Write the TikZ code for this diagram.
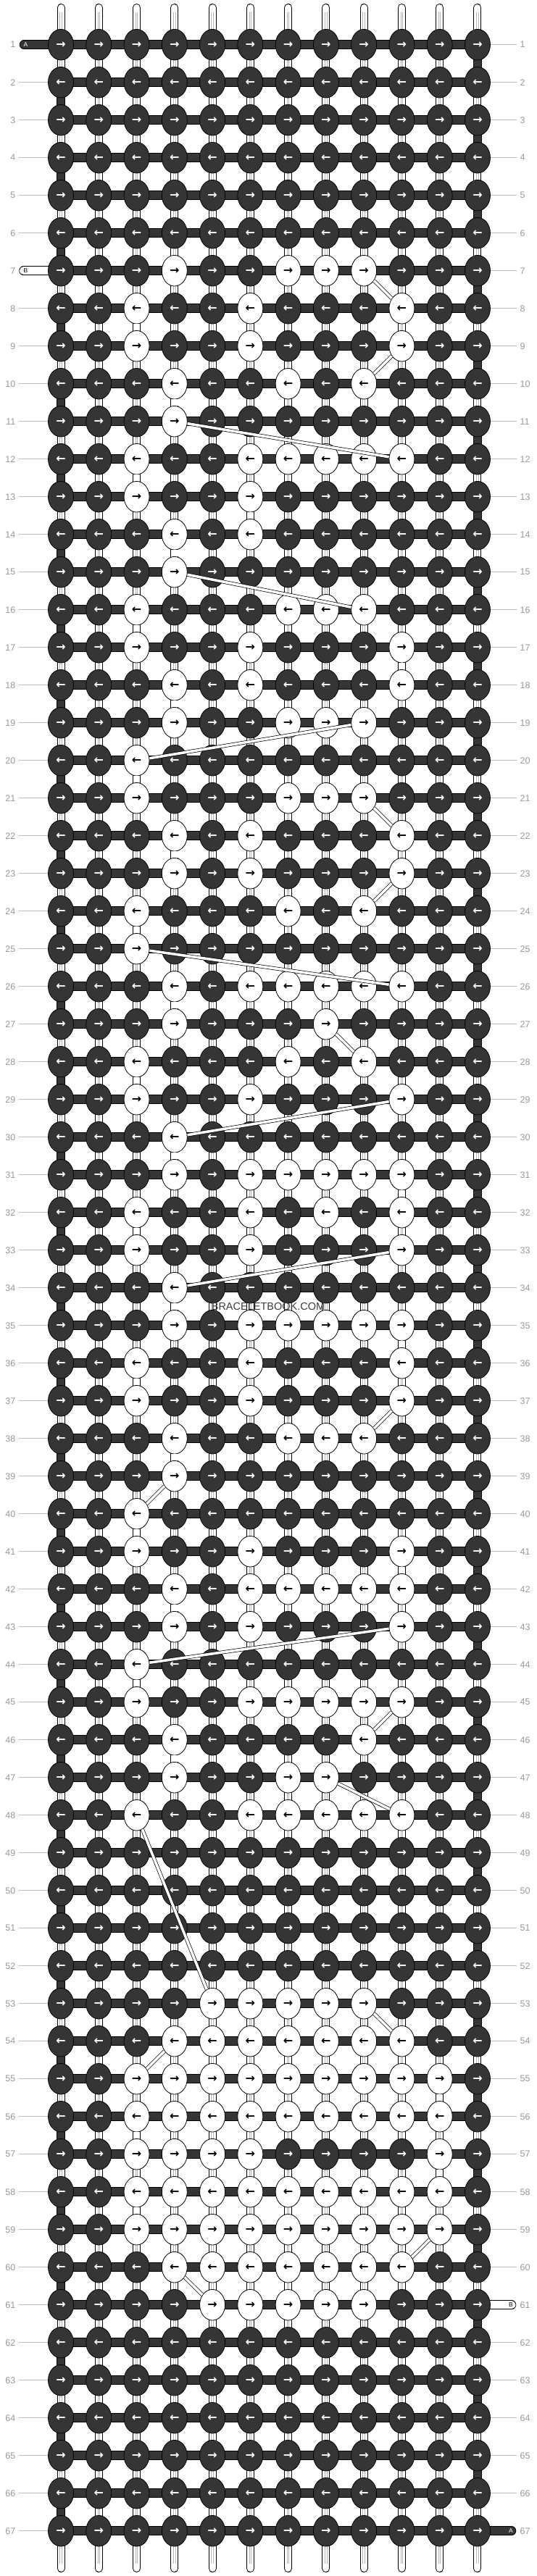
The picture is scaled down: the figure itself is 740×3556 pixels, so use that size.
\documentclass[tikz,border=0pt]{standalone}
\usepackage{fontspec}
\setmainfont{Liberation Sans}
\newfontfamily\arrowfont{DejaVu Sans}
\usetikzlibrary{shapes.geometric}
\definecolor{dk}{HTML}{353535}
\definecolor{lbl}{HTML}{9A9A9A}
\definecolor{lblline}{HTML}{BBBBBB}
\definecolor{strgray}{HTML}{B4B4B4}
\definecolor{wmcol}{HTML}{3C3C3C}
\pgfdeclarelayer{paper}
\pgfdeclarelayer{strings}
\pgfdeclarelayer{bars}
\pgfdeclarelayer{top}
\pgfsetlayers{paper,strings,bars,main,top}
\newif\ifwhiteknot
\begin{document}
\begin{tikzpicture}[x=1pt,y=-1pt,
  knotbase/.style={ellipse, minimum width=35pt, minimum height=42.6pt, inner sep=0pt, draw=black, line width=0.8pt, font=\arrowfont\bfseries\fontsize{16}{16}\selectfont},
  darkknot/.style={knotbase, fill=dk, text=white},
  lightknot/.style={knotbase, fill=white, text=black},
  strouter/.style={line width=11pt, line cap=round, draw=black},
  strinner/.style={line width=9pt, line cap=round, draw=white},
  strgrayline/.style={line width=3.4pt, draw=strgray},
  strcore/.style={line width=1.4pt, draw=white},
  barout/.style={line width=12.5pt, draw=black},
  barin/.style={line width=11pt, draw=dk},
  edgeout/.style={line width=12pt, draw=black},
  edgein/.style={line width=10.5pt, draw=dk},
  bandwhite/.style={line width=11pt, draw=white, line cap=round},
  bline/.style={line width=0.7pt, draw=black, double=white, double distance=3.6pt},
  bvert/.style={line width=0.8pt, draw=black, double=white, double distance=9.4pt},
  rowlabel/.style={inner sep=0pt, text=lbl, font=\fontsize{12.5}{12.5}\selectfont},
  lblconn/.style={draw=lblline, line width=0.9pt},
  threadlabel/.style={inner sep=0pt, font=\fontsize{8.5}{8.5}\selectfont},
  watermark/.style={inner sep=0pt, text=wmcol, font=\fontsize{14.5}{14.5}\selectfont}
]
\begin{pgfonlayer}{paper}
\path[fill=white] (0,0) rectangle (740,3556);
\end{pgfonlayer}
\useasboundingbox (0,0) rectangle (740,3556);

% knots
\foreach \r/\wl in {1/{0},2/{0},3/{0},4/{0},5/{0},6/{0},
  7/{4,7,8,9},8/{3,6,10},9/{3,6,10},10/{4,7,9},11/{4},
  12/{3,6,7,8,9,10},13/{3,6},14/{4,6},15/{4},16/{3,7,8,9},
  17/{3,6,10},18/{4,6,10},19/{4,7,8,9},20/{3},21/{3,7,8,9},
  22/{4,6,10},23/{4,6,10},24/{3,7,9},25/{3},26/{4,6,7,8,9,10},
  27/{4,8},28/{3,7,9},29/{3,6,10},30/{4},31/{4,6,7,8,9,10},
  32/{3,6,8,10},33/{3,6,10},34/{4},35/{4,6,7,8,9,10},36/{3,6,10},
  37/{3,6,10},38/{4,7,8,9},39/{4},40/{3},41/{3,6,10},
  42/{4,6,7,8,9,10},43/{4,6,10},44/{3},45/{3,6,7,8,9,10},46/{4,9},
  47/{4,7,8},48/{3,6,7,8,9,10},49/{0},50/{0},51/{0},52/{0},
  53/{5,6,7,8,9},54/{4,5,6,7,8,9,10},55/{3,4,5,6,7,8,9,10,11},
  56/{3,4,5,6,7,8,9,10,11},57/{3,4,5,6,11},58/{3,4,5,6,7,8,9,10,11},
  59/{3,4,5,6,7,8,9,10,11},60/{4,5,6,7,8,9,10},61/{5,6,7,8,9},
  62/{0},63/{0},64/{0},65/{0},66/{0},67/{0}} {
  \foreach \c in {1,...,12} {
    \global\whiteknotfalse
    \foreach \w in \wl {\ifnum\w=\c\relax\global\whiteknottrue\fi}
    \pgfmathsetmacro\xx{84+(\c-1)*52.27}
    \pgfmathsetmacro\yy{61.7+(\r-1)*52}
    \ifodd\r \def\ar{→}\else\def\ar{←}\fi
    \ifwhiteknot
      \node[lightknot] (k-\r-\c) at (\xx,\yy) {\ar};
    \else
      \node[darkknot] (k-\r-\c) at (\xx,\yy) {\ar};
    \fi
  }
  % row labels
  \pgfmathsetmacro\yy{61.7+(\r-1)*52}
  \node[rowlabel, anchor=east] (ll-\r) at (21.5,\yy) {\r};
  \node[rowlabel, anchor=west] (lr-\r) at (717.5,\yy) {\r};
}

% string coordinates
\foreach \c in {1,...,12} {
  \pgfmathsetmacro\xx{84+(\c-1)*52.27}
  \coordinate (st-\c) at (\xx,10.5);
  \coordinate (sb-\c) at (\xx,3545.5);
  \coordinate (gt-\c) at (\xx,17);
  \coordinate (gb-\c) at (\xx,3539);
}
\coordinate (aL) at (33,61.7);
\coordinate (bL) at (32.5,373.7);
\coordinate (bR) at (706,3181.7);
\coordinate (aR) at (706,3493.7);

\begin{pgfonlayer}{strings}
  \foreach \c in {1,...,12} {
    \draw[strouter] (st-\c) -- (sb-\c);
    \draw[strinner] (st-\c) -- (sb-\c);
    \draw[strgrayline] (gt-\c) -- (gb-\c);
    \draw[strcore] (gt-\c) -- (gb-\c);
  }
  \foreach \r in {1,...,67} {
    \ifnum\r=1\else\ifnum\r=7\else
      \draw[lblconn, shorten <=4.5pt] (ll-\r.east) -- (k-\r-1.west);
    \fi\fi
    \ifnum\r=61\else\ifnum\r=67\else
      \draw[lblconn, shorten >=4.5pt] (k-\r-12.east) -- (lr-\r.west);
    \fi\fi
  }
\end{pgfonlayer}

\begin{pgfonlayer}{bars}
  % turning connectors of thread A at the edges
  \foreach \r in {2,4,...,66} {
    \pgfmathtruncatemacro\rn{\r+1}
    \draw[edgeout] (k-\r-1.center) -- (k-\rn-1.center);
    \draw[edgein] (k-\r-1.center) -- (k-\rn-1.center);
  }
  \foreach \r in {1,3,...,65} {
    \pgfmathtruncatemacro\rn{\r+1}
    \draw[edgeout] (k-\r-12.center) -- (k-\rn-12.center);
    \draw[edgein] (k-\r-12.center) -- (k-\rn-12.center);
  }
  % horizontal bars
  \foreach \r in {1,...,67} {
    \draw[barout] (k-\r-1.center) -- (k-\r-12.center);
    \draw[barin] (k-\r-1.center) -- (k-\r-12.center);
  }
  % thread ends
  \draw[barout, line cap=round] (aL) -- (k-1-1.center);
  \draw[barin, line cap=round] (aL) -- (k-1-1.center);
  \draw[barout, line cap=round] (k-67-12.center) -- (aR);
  \draw[barin, line cap=round] (k-67-12.center) -- (aR);
  \draw[barout, line cap=round] (bL) -- (k-7-1.center);
  \draw[bandwhite] (bL) -- (k-7-1.center);
  \draw[barout, line cap=round] (k-61-12.center) -- (bR);
  \draw[bandwhite] (k-61-12.center) -- (bR);
\end{pgfonlayer}

\node[threadlabel, text=white] (aLt) at (35.5,61.7) {A};
\node[threadlabel, text=white] (aRt) at (705,3493.7) {A};
\node[threadlabel, text=black] (bLt) at (35.5,373.7) {B};
\node[threadlabel, text=black] (bRt) at (705,3181.7) {B};

\begin{pgfonlayer}{top}
  \foreach \ra/\ca/\rb/\cb in {7/9/8/10, 9/10/10/9, 11/4/12/10, 15/4/16/9,
    19/9/20/3, 21/9/22/10, 23/10/24/9, 25/3/26/10, 27/8/28/9, 29/10/30/4,
    33/10/34/4, 37/10/38/9, 39/4/40/3, 43/10/44/3, 45/10/46/9, 47/8/48/10,
    48/3/53/5, 53/9/54/10, 54/4/55/3, 59/11/60/10, 60/4/61/5} {
    \draw[bline] (k-\ra-\ca) -- (k-\rb-\cb);
  }
  \foreach \ra/\ca in {8/3, 10/4, 12/3, 13/6, 14/4, 16/3, 17/10, 18/4, 20/3,
    22/4, 24/3, 26/4, 28/3, 30/4, 31/10, 32/3, 34/4, 35/10, 36/3, 38/4, 40/3,
    41/10, 42/4, 44/3, 46/4, 55/11, 56/3, 57/11, 58/3} {
    \pgfmathtruncatemacro\rn{\ra+1}
    \draw[bvert] (k-\ra-\ca) -- (k-\rn-\ca);
  }
  \node[watermark] (wm) at (370,1803) {BRACELETBOOK.COM};
\end{pgfonlayer}
\end{tikzpicture}
\end{document}
